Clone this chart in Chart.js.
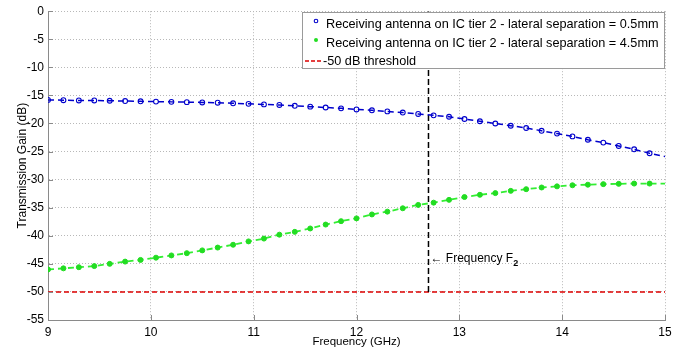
<!DOCTYPE html>
<html>
<head>
<meta charset="utf-8">
<script src="https://cdn.jsdelivr.net/npm/chart.js@4.4.1/dist/chart.umd.min.js"></script>
<style>
  html, body { margin: 0; padding: 0; background: #fff; }
  #wrap { width: 694px; height: 354px; position: relative; }
</style>
</head>
<body>
<div id="wrap"><canvas id="c" width="694" height="354"></canvas></div>
<script>
// ---- data ----
const freqGHz = [9.00, 9.15, 9.30, 9.45, 9.60, 9.75, 9.90, 10.05, 10.20, 10.35,
                 10.50, 10.65, 10.80, 10.95, 11.10, 11.25, 11.40, 11.55, 11.70, 11.85,
                 12.00, 12.15, 12.30, 12.45, 12.60, 12.75, 12.90, 13.05, 13.20, 13.35,
                 13.50, 13.65, 13.80, 13.95, 14.10, 14.25, 14.40, 14.55, 14.70, 14.85, 15.00];
const gain05mm = [-15.8, -15.85, -15.9, -15.9, -15.95, -16.0, -16.05, -16.1, -16.15, -16.2,
                  -16.25, -16.3, -16.4, -16.5, -16.6, -16.7, -16.85, -17.0, -17.15, -17.3,
                  -17.5, -17.65, -17.85, -18.05, -18.3, -18.55, -18.8, -19.2, -19.6, -20.0,
                  -20.4, -20.8, -21.3, -21.8, -22.3, -22.9, -23.4, -24.0, -24.6, -25.3, -25.9];
const gain45mm = [-46.0, -45.8, -45.6, -45.4, -45.0, -44.6, -44.3, -43.9, -43.5, -43.1,
                  -42.6, -42.1, -41.6, -41.0, -40.5, -39.8, -39.3, -38.7, -38.0, -37.4,
                  -36.9, -36.2, -35.7, -35.1, -34.5, -34.1, -33.6, -33.1, -32.7, -32.4,
                  -32.0, -31.7, -31.4, -31.2, -31.0, -30.9, -30.8, -30.75, -30.7, -30.7, -30.7];
const thresholdDb = -50;
const markerF2 = 12.7;
const xTicks = [9, 10, 11, 12, 13, 14, 15];
const yTicks = [0, -5, -10, -15, -20, -25, -30, -35, -40, -45, -50, -55];
const seriesLabels = [
  'Receiving antenna on IC tier 2 - lateral separation = 0.5mm',
  'Receiving antenna on IC tier 2 - lateral separation = 4.5mm',
  '-50 dB threshold'
];

// ---- build datasets ----
const toPts = ys => freqGHz.map((f, i) => ({ x: f, y: ys[i] }));
const markerRadii = freqGHz.map((f, i) => i === freqGHz.length - 1 ? 0 : 2.4);
const markerRadiiG = freqGHz.map((f, i) => i === freqGHz.length - 1 ? 0 : 2.5);

const FONT = '"Liberation Sans", Arial, Helvetica, sans-serif';

const legendPlugin = {
  id: 'matlabLegend',
  afterDraw(chart) {
    const ctx = chart.ctx;
    const xs = chart.scales.x, ys = chart.scales.y;
    ctx.save();
    // inward ticks on left and bottom axes
    ctx.strokeStyle = '#8a8a8a';
    ctx.lineWidth = 1;
    yTicks.forEach(v => {
      const py = Math.round(ys.getPixelForValue(v)) + 0.5;
      ctx.beginPath(); ctx.moveTo(xs.left, py); ctx.lineTo(xs.left + 5, py); ctx.stroke();
    });
    xTicks.forEach(v => {
      const px = Math.round(xs.getPixelForValue(v)) + 0.5;
      ctx.beginPath(); ctx.moveTo(px, ys.bottom); ctx.lineTo(px, ys.bottom - 5); ctx.stroke();
    });

    // annotation text
    const ax = xs.getPixelForValue(markerF2) + 2;
    const ay = ys.getPixelForValue(-45) - 5;
    ctx.fillStyle = '#000';
    ctx.font = '12px ' + FONT;
    ctx.textBaseline = 'middle';
    ctx.textAlign = 'left';
    const txt = '\u2190 Frequency F';
    ctx.fillText(txt, ax, ay);
    const w = ctx.measureText(txt).width;
    ctx.font = 'bold 9px ' + FONT;
    ctx.fillText('2', ax + w, ay + 5);

    // legend box
    const bx = 302, by = 12, bw = 362, bh = 56;
    ctx.fillStyle = '#fff';
    ctx.fillRect(bx, by, bw, bh);
    ctx.strokeStyle = '#9a9a9a';
    ctx.lineWidth = 1;
    ctx.strokeRect(bx + 0.5, by + 0.5, bw, bh);
    ctx.font = '12.7px ' + FONT;
    ctx.fillStyle = '#000';
    const rows = [by + 12, by + 31, by + 49];
    // row 1: hollow blue circle
    ctx.strokeStyle = '#0000cc';
    ctx.lineWidth = 1.1;
    ctx.beginPath(); ctx.arc(316, rows[0] - 3, 1.8, 0, Math.PI * 2); ctx.stroke();
    ctx.fillText(seriesLabels[0], 326, rows[0]);
    // row 2: green dot
    ctx.fillStyle = '#22dd22';
    ctx.beginPath(); ctx.arc(316, rows[1] - 3, 2, 0, Math.PI * 2); ctx.fill();
    ctx.fillStyle = '#000';
    ctx.fillText(seriesLabels[1], 326, rows[1]);
    // row 3: red dashed line
    ctx.strokeStyle = '#dd0000';
    ctx.lineWidth = 1.5;
    ctx.setLineDash([4, 2]);
    ctx.beginPath(); ctx.moveTo(305, rows[2]); ctx.lineTo(323, rows[2]); ctx.stroke();
    ctx.setLineDash([]);
    ctx.fillText(seriesLabels[2], 323, rows[2]);
    ctx.restore();
  }
};

new Chart(document.getElementById('c'), {
  type: 'line',
  data: {
    datasets: [
      {
        label: seriesLabels[2],
        data: [{ x: xTicks[0], y: thresholdDb }, { x: xTicks[xTicks.length - 1], y: thresholdDb }],
        borderColor: '#dd0000', borderWidth: 1.5, borderDash: [5, 3],
        pointRadius: 0, order: 4
      },
      {
        label: 'F2',
        data: [{ x: markerF2, y: thresholdDb }, { x: markerF2, y: 0 }],
        borderColor: '#000', borderWidth: 1.5, borderDash: [6, 3],
        pointRadius: 0, order: 3
      },
      {
        label: seriesLabels[0],
        data: toPts(gain05mm),
        borderColor: '#0000cc', borderWidth: 1.5, borderDash: [6, 4],
        pointStyle: 'circle', pointRadius: markerRadii,
        pointBorderColor: '#0000cc', pointBackgroundColor: 'rgba(255,255,255,0)',
        pointBorderWidth: 1.1, tension: 0, order: 1
      },
      {
        label: seriesLabels[1],
        data: toPts(gain45mm),
        borderColor: '#33ee33', borderWidth: 1.8, borderDash: [6, 4],
        pointStyle: 'circle', pointRadius: markerRadiiG,
        pointBorderColor: '#22dd22', pointBackgroundColor: '#22dd22',
        pointBorderWidth: 1, tension: 0, order: 2
      }
    ]
  },
  options: {
    responsive: false,
    animation: false,
    events: [],
    layout: { padding: { top: 10, right: 29, left: 0, bottom: 0 } },
    plugins: { legend: { display: false }, tooltip: { enabled: false } },
    scales: {
      x: {
        type: 'linear', min: 9, max: 15,
        afterBuildTicks: s => { s.ticks = xTicks.map(v => ({ value: v })); },
        afterFit: s => { s.height = 34; },
        ticks: { color: '#000', font: { family: FONT, size: 12 }, padding: 5, maxRotation: 0 },
        grid: { color: '#b8b8b8', lineWidth: 1, drawTicks: false, tickLength: 0 },
        border: { display: true, color: '#8a8a8a', width: 1, dash: [1, 2] },
        title: { display: true, text: 'Frequency (GHz)', color: '#000',
                 font: { family: FONT, size: 11.5 }, padding: { top: 0, bottom: 5 } }
      },
      y: {
        type: 'linear', min: -55, max: 0,
        afterBuildTicks: s => { s.ticks = yTicks.map(v => ({ value: v })); },
        afterFit: s => { s.width = 48; },
        ticks: { color: '#000', font: { family: FONT, size: 12 }, padding: 4 },
        grid: { color: '#b8b8b8', lineWidth: 1, drawTicks: false, tickLength: 0 },
        border: { display: true, color: '#8a8a8a', width: 1, dash: [1, 2] },
        title: { display: true, text: 'Transmission Gain (dB)', color: '#000',
                 font: { family: FONT, size: 12 }, padding: { top: 15, bottom: 0 } }
      }
    }
  },
  plugins: [legendPlugin]
});
</script>
</body>
</html>
